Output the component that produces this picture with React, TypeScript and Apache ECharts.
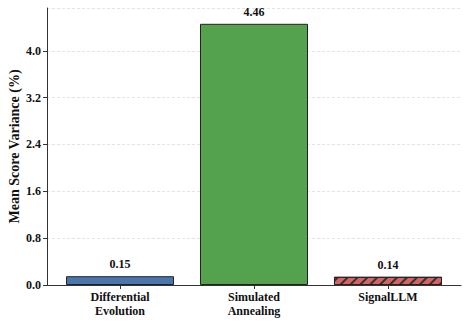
import React, { useEffect, useRef } from "react";
import * as echarts from "echarts";

const categories = ["Differential\nEvolution", "Simulated\nAnnealing", "SignalLLM"];
const variances = [0.15, 4.46, 0.14];
const barColors = ["#4a76ad", "#55a24e", "#d66262"];
const hatched = [false, false, true];
const yTicks = [0, 0.8, 1.6, 2.4, 3.2, 4.0];

export default function App() {
  const ref = useRef<HTMLDivElement>(null);
  useEffect(() => {
    if (!ref.current) return;
    const chart = echarts.init(ref.current, null, { renderer: "svg" });
    const font = "'Liberation Serif', 'Times New Roman', serif";
    chart.setOption({
      animation: false,
      grid: { left: 47, right: 8, top: 8, bottom: 39, containLabel: false, outerBoundsMode: "none" },
      xAxis: {
        type: "value",
        min: -0.545,
        max: 2.545,
        splitLine: { show: false },
        axisLine: { show: true, onZero: false, lineStyle: { color: "#333", width: 1 } },
        axisTick: { show: true, customValues: [0, 1, 2], length: 4, lineStyle: { color: "#333" } },
        axisLabel: {
          customValues: [0, 1, 2],
          formatter: (v: number) => categories[Math.round(v)] ?? "",
          fontFamily: font,
          fontWeight: "bold",
          fontSize: 12,
          color: "#111",
          lineHeight: 14,
          margin: 5,
        },
      },
      yAxis: {
        type: "value",
        min: 0,
        max: 4.73,
        interval: 0.8,
        name: "Mean Score Variance (%)",
        nameLocation: "middle",
        nameGap: 26,
        nameMoveOverlap: false,
        nameTextStyle: { fontFamily: font, fontWeight: "bold", fontSize: 14, color: "#111" },
        axisLine: { show: true, onZero: false, lineStyle: { color: "#333", width: 1 } },
        axisTick: { show: true, length: 4, lineStyle: { color: "#333" } },
        axisLabel: {
          showMaxLabel: false,
          formatter: (v: number) => (yTicks.some((t) => Math.abs(t - v) < 1e-6) ? v.toFixed(1) : ""),
          fontFamily: font,
          fontWeight: "bold",
          fontSize: 12,
          color: "#111",
          margin: 6,
        },
        splitLine: { show: true, lineStyle: { color: "#dddddd", type: [3, 2], width: 0.8 } },
      },
      series: [
        {
          type: "bar",
          barWidth: 108,
          data: variances.map((v, i) => ({
            value: [i, v],
            itemStyle: {
              color: barColors[i],
              borderColor: "#222",
              borderWidth: 1,
              decal: hatched[i]
                ? {
                    symbol: "rect",
                    symbolSize: 1,
                    color: "#333",
                    backgroundColor: null,
                    dashArrayX: [1, 0],
                    dashArrayY: [1.2, 4.5],
                    rotation: -Math.PI / 4,
                  }
                : undefined,
            },
          })),
          label: {
            show: true,
            position: "top",
            distance: 6,
            formatter: (p: any) => p.value[1].toFixed(2),
            fontFamily: font,
            fontWeight: "bold",
            fontSize: 12,
            color: "#111",
          },
        },
      ],
    });
    return () => chart.dispose();
  }, []);
  return <div ref={ref} style={{ width: 469, height: 324, position: "absolute", left: 0, top: 0 }} />;
}
